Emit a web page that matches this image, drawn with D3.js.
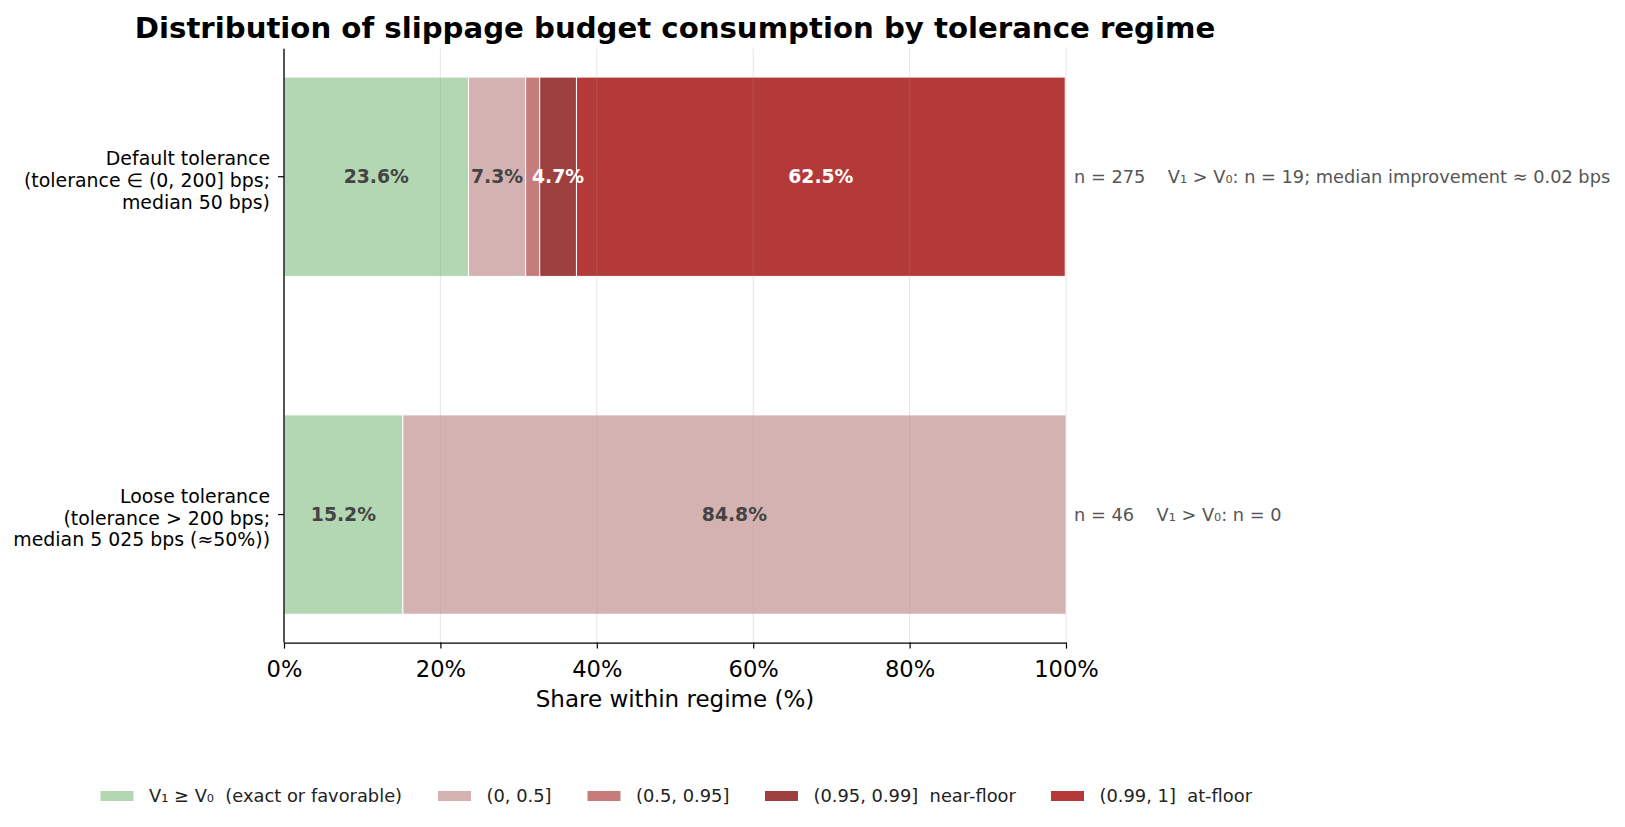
<!DOCTYPE html>
<html>
<head>
<meta charset="utf-8">
<script src="https://cdn.jsdelivr.net/npm/d3@7"></script>
<style>
  body { margin: 0; background: #fff; }
  svg { font-family: "DejaVu Sans", sans-serif; display: block; }
</style>
</head>
<body>
<div id="chart"></div>
<script>
// data
const regimes = ["default", "loose"]
const regimeLabels = [
    ["Default tolerance", "(tolerance \u2208 (0, 200] bps;", "median 50 bps)"],
    ["Loose tolerance", "(tolerance > 200 bps;", "median 5 025 bps (\u224850%))"]
]
const bins = ["fav", "b1", "b2", "b3", "b4"]
const binLabels = ["V\u2081 \u2265 V\u2080  (exact or favorable)", "(0, 0.5]", "(0.5, 0.95]", "(0.95, 0.99]  near-floor", "(0.99, 1]  at-floor"]
const binColors = ["#b3d6b3", "#d5b2b2", "#c77c7c", "#9f4040", "#b43a3a"]
const labelColors = ["#444", "#444", "#fff", "#fff", "#fff"]
const defaultShares = [23.6, 7.3, 1.8, 4.7, 62.5]
const looseShares = [15.2, 84.8, 0, 0, 0]
const notes = [
    "n = 275    V\u2081 > V\u2080: n = 19; median improvement \u2248 0.02 bps",
    "n = 46    V\u2081 > V\u2080: n = 0"
]
const xTicks = [0, 20, 40, 60, 80, 100]

const width = 1625
const height = 827
const margin = ({top: 48.7, right: 559, bottom: 184.4, left: 284})

const svg = d3.select("#chart").append("svg")
    .attr("width", width)
    .attr("height", height)
    .attr("viewBox", [0, 0, width, height])

const x = d3.scaleLinear()
    .domain([0, 100])
    .range([margin.left, width - margin.right])

const y = d3.scalePoint()
    .domain(regimes)
    .range([margin.top, height - margin.bottom])
    .padding(0.379)

const barH = 0.59 * y.step()

// stack the shares per regime
const rows = regimes.map((r, i) => {
    const vals = i === 0 ? defaultShares : looseShares
    let acc = 0
    return vals.map((v, j) => {
        const seg = {regime: r, bin: j, x0: acc, x1: acc + v, v}
        acc += v
        return seg
    }).filter(d => d.v > 0)
})

// bars
svg.append("g")
    .selectAll("g")
    .data(rows)
    .join("g")
    .selectAll("rect")
    .data(d => d)
    .join("rect")
    .attr("x", d => x(d.x0))
    .attr("y", d => y(d.regime) - barH / 2)
    .attr("width", d => x(d.x1) - x(d.x0))
    .attr("height", barH)
    .attr("fill", d => binColors[d.bin])
    .attr("stroke", "#fff")
    .attr("stroke-width", 1)

// grid on top, faint
svg.append("g")
    .selectAll("line")
    .data(xTicks)
    .join("line")
    .attr("x1", d => x(d)).attr("x2", d => x(d))
    .attr("y1", margin.top).attr("y2", height - margin.bottom)
    .attr("stroke", "#a0a0a0")
    .attr("stroke-opacity", 0.25)
    .attr("stroke-width", 1)

// segment labels (skip tiny ones)
svg.append("g")
    .selectAll("text")
    .data(rows.flat().filter(d => d.v >= 3))
    .join("text")
    .attr("x", d => x((d.x0 + d.x1) / 2))
    .attr("y", d => y(d.regime))
    .attr("dy", "0.35em")
    .attr("text-anchor", "middle")
    .attr("font-size", 18.8)
    .attr("font-weight", "bold")
    .attr("fill", d => labelColors[d.bin])
    .text(d => d.v.toFixed(1) + "%")

// right-hand notes
svg.append("g")
    .selectAll("text")
    .data(regimes)
    .join("text")
    .attr("x", x(100) + 8)
    .attr("y", d => y(d))
    .attr("dy", "0.35em")
    .attr("font-size", 17.75)
    .attr("fill", "#555")
    .style("white-space", "pre")
    .text((d, i) => notes[i])

// x axis
const xAxis = g => g
    .attr("transform", `translate(0,${height - margin.bottom})`)
    .call(d3.axisBottom(x).tickValues(xTicks).tickFormat(d => d + "%").tickSize(6).tickSizeOuter(0))
    .call(g => g.select(".domain").attr("stroke", "#000").attr("stroke-width", 1.3))
    .call(g => g.selectAll(".tick line").attr("stroke", "#000").attr("stroke-width", 1.2))
    .call(g => g.selectAll(".tick text")
        .attr("font-family", "DejaVu Sans")
        .attr("font-size", 22.6)
        .attr("fill", "#000")
        .attr("y", 13)
        .attr("dy", "0.95em"))

svg.append("g").call(xAxis)

svg.append("text")
    .attr("x", (x(0) + x(100)) / 2)
    .attr("y", 699)
    .attr("dy", "0.35em")
    .attr("text-anchor", "middle")
    .attr("font-size", 23)
    .text("Share within regime (%)")

// y axis
svg.append("line")
    .attr("x1", margin.left).attr("x2", margin.left)
    .attr("y1", margin.top).attr("y2", height - margin.bottom)
    .attr("stroke", "#000").attr("stroke-width", 1.3)

const yTicks = svg.append("g")
    .selectAll("g")
    .data(regimes)
    .join("g")
    .attr("transform", d => `translate(${margin.left},${y(d)})`)

yTicks.append("line")
    .attr("x1", -6).attr("x2", 0)
    .attr("stroke", "#000").attr("stroke-width", 1.2)

yTicks.append("text")
    .attr("text-anchor", "end")
    .attr("font-size", 18.9)
    .attr("fill", "#000")
    .selectAll("tspan")
    .data((d, i) => regimeLabels[i].map((t, k, arr) => ({t, k, n: arr.length})))
    .join("tspan")
    .attr("x", -14)
    .attr("y", d => (d.k - (d.n - 1) / 2) * 21.8 + 3.5)
    .attr("dy", "0.35em")
    .text(d => d.t)

// title
svg.append("text")
    .attr("x", (x(0) + x(100)) / 2)
    .attr("y", 28)
    .attr("dy", "0.35em")
    .attr("text-anchor", "middle")
    .attr("font-size", 29.2)
    .attr("font-weight", "bold")
    .text("Distribution of slippage budget consumption by tolerance regime")

// legend
const legendX = [100.5, 438, 587.5, 765, 1051]
const legend = svg.append("g")
    .selectAll("g")
    .data(bins)
    .join("g")
    .attr("transform", (d, i) => `translate(${legendX[i]},796)`)

legend.append("rect")
    .attr("x", 0).attr("y", -5)
    .attr("width", 33).attr("height", 10)
    .attr("fill", (d, i) => binColors[i])

legend.append("text")
    .attr("x", 48.5)
    .attr("dy", "0.35em")
    .attr("font-size", 17.85)
    .attr("fill", "#222")
    .style("white-space", "pre")
    .text((d, i) => binLabels[i])
</script>
</body>
</html>
